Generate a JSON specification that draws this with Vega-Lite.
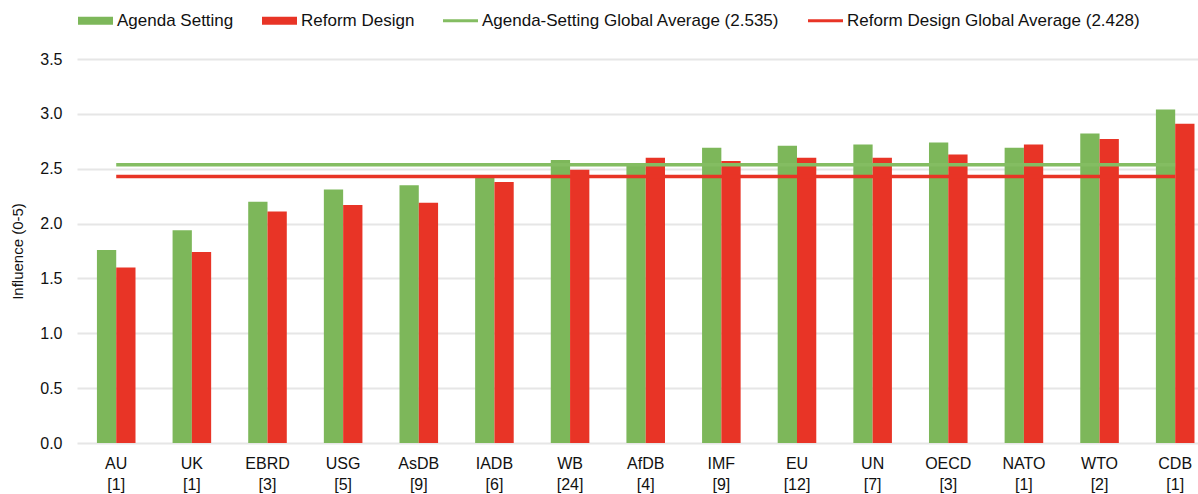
{
  "$schema": "https://vega.github.io/schema/vega-lite/v6.json",
  "width": 1121,
  "height": 384,
  "autosize": {"type": "none"},
  "padding": {"left": 77, "top": 59, "right": 0, "bottom": 51},
  "background": "white",
  "config": {"font": "Liberation Sans", "view": {"stroke": null}},
  "datasets": {
    "bars": [
      {"org": "AU [1]", "series": "Agenda Setting", "value": 1.76},
      {"org": "AU [1]", "series": "Reform Design", "value": 1.60},
      {"org": "UK [1]", "series": "Agenda Setting", "value": 1.94},
      {"org": "UK [1]", "series": "Reform Design", "value": 1.74},
      {"org": "EBRD [3]", "series": "Agenda Setting", "value": 2.20},
      {"org": "EBRD [3]", "series": "Reform Design", "value": 2.11},
      {"org": "USG [5]", "series": "Agenda Setting", "value": 2.31},
      {"org": "USG [5]", "series": "Reform Design", "value": 2.17},
      {"org": "AsDB [9]", "series": "Agenda Setting", "value": 2.35},
      {"org": "AsDB [9]", "series": "Reform Design", "value": 2.19},
      {"org": "IADB [6]", "series": "Agenda Setting", "value": 2.43},
      {"org": "IADB [6]", "series": "Reform Design", "value": 2.38},
      {"org": "WB [24]", "series": "Agenda Setting", "value": 2.58},
      {"org": "WB [24]", "series": "Reform Design", "value": 2.49},
      {"org": "AfDB [4]", "series": "Agenda Setting", "value": 2.55},
      {"org": "AfDB [4]", "series": "Reform Design", "value": 2.60},
      {"org": "IMF [9]", "series": "Agenda Setting", "value": 2.69},
      {"org": "IMF [9]", "series": "Reform Design", "value": 2.57},
      {"org": "EU [12]", "series": "Agenda Setting", "value": 2.71},
      {"org": "EU [12]", "series": "Reform Design", "value": 2.60},
      {"org": "UN [7]", "series": "Agenda Setting", "value": 2.72},
      {"org": "UN [7]", "series": "Reform Design", "value": 2.60},
      {"org": "OECD [3]", "series": "Agenda Setting", "value": 2.74},
      {"org": "OECD [3]", "series": "Reform Design", "value": 2.63},
      {"org": "NATO [1]", "series": "Agenda Setting", "value": 2.69},
      {"org": "NATO [1]", "series": "Reform Design", "value": 2.72},
      {"org": "WTO [2]", "series": "Agenda Setting", "value": 2.82},
      {"org": "WTO [2]", "series": "Reform Design", "value": 2.77},
      {"org": "CDB [1]", "series": "Agenda Setting", "value": 3.04},
      {"org": "CDB [1]", "series": "Reform Design", "value": 2.91}
    ],
    "avg": [
      {"org": "AU [1]", "series": "Agenda-Setting Global Average (2.535)", "value": 2.535},
      {"org": "CDB [1]", "series": "Agenda-Setting Global Average (2.535)", "value": 2.535},
      {"org": "AU [1]", "series": "Reform Design Global Average (2.428)", "value": 2.428},
      {"org": "CDB [1]", "series": "Reform Design Global Average (2.428)", "value": 2.428}
    ]
  },
  "layer": [
    {
      "data": {"name": "bars"},
      "mark": {"type": "bar"},
      "encoding": {
        "x": {
          "field": "org",
          "type": "nominal",
          "sort": null,
          "scale": {
            "domain": ["AU [1]", "UK [1]", "EBRD [3]", "USG [5]", "AsDB [9]", "IADB [6]", "WB [24]", "AfDB [4]", "IMF [9]", "EU [12]", "UN [7]", "OECD [3]", "NATO [1]", "WTO [2]", "CDB [1]"],
            "paddingInner": 0.49,
            "paddingOuter": 0.155,
            "align": 0.85
          },
          "axis": {
            "title": null,
            "domain": false,
            "ticks": false,
            "labelAngle": 0,
            "labelFontSize": 16,
            "labelColor": "#111111",
            "labelPadding": 12,
            "labelLineHeight": 21,
            "labelExpr": "split(datum.label, ' ')"
          }
        },
        "xOffset": {"field": "series", "type": "nominal", "sort": ["Agenda Setting", "Reform Design"]},
        "y": {
          "field": "value",
          "type": "quantitative",
          "scale": {"domain": [0, 3.5], "nice": false},
          "axis": {
            "title": "Influence (0-5)",
            "titleFontSize": 15,
            "titleFontWeight": "normal",
            "titleColor": "#111111",
            "titlePadding": 14,
            "values": [0, 0.5, 1, 1.5, 2, 2.5, 3, 3.5],
            "format": ".1f",
            "labelFontSize": 16,
            "labelColor": "#111111",
            "labelPadding": 15,
            "domain": false,
            "ticks": false,
            "gridColor": "#e6e6e6",
            "gridWidth": 2
          }
        },
        "color": {
          "field": "series",
          "type": "nominal",
          "scale": {
            "domain": ["Agenda Setting", "Reform Design", "Agenda-Setting Global Average (2.535)", "Reform Design Global Average (2.428)"],
            "range": ["#7db75a", "#e83426", "#84bd62", "#e83426"]
          },
          "legend": {
            "orient": "none",
            "legendX": 1,
            "legendY": -56,
            "direction": "horizontal",
            "columns": 4,
            "title": null,
            "padding": 0,
            "offset": 0,
            "labelFontSize": 17,
            "labelColor": "#111111",
            "labelOffset": 4,
            "labelLimit": 0,
            "columnPadding": 28,
            "symbolSize": 1225,
            "encode": {
              "symbols": {
                "update": {
                  "shape": {"signal": "indexof(datum.label, 'Average') >= 0 ? 'M-1,-0.09H1V0.09H-1Z' : 'M-1,-0.23H1V0.23H-1Z'"},
                  "fill": {"scale": "color", "field": "value"},
                  "strokeWidth": {"value": 0},
                  "opacity": {"value": 1}
                }
              }
            }
          }
        }
      }
    },
    {
      "data": {"name": "avg"},
      "mark": {"type": "line", "strokeWidth": 3.5},
      "encoding": {
        "x": {"field": "org", "type": "nominal", "sort": null},
        "y": {"field": "value", "type": "quantitative"},
        "color": {"field": "series", "type": "nominal"}
      }
    }
  ]
}
